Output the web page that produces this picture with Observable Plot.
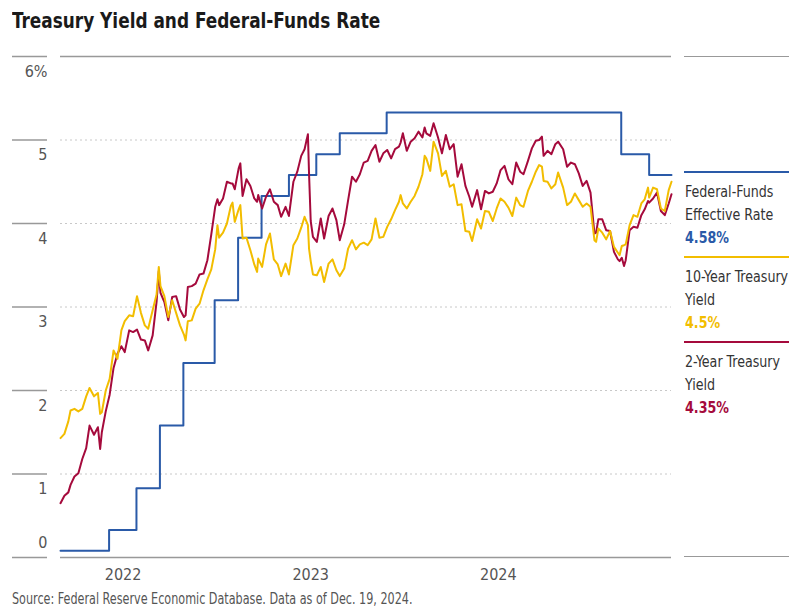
<!DOCTYPE html>
<html>
<head>
<meta charset="utf-8">
<script src="https://cdn.jsdelivr.net/npm/d3@7"></script>
<script src="https://cdn.jsdelivr.net/npm/@observablehq/plot@0.6"></script>
<style>
  html, body { margin: 0; padding: 0; background: #fff; }
  body { font-family: "Liberation Sans Narrow", "Arial Narrow", "DejaVu Sans Condensed", sans-serif; }
  #wrap { position: relative; width: 789px; height: 607px; overflow: hidden; }
  #title { position: absolute; left: 12px; top: 0; height: 42px; line-height: 42px; font-size: 22px; font-weight: bold; color: #1a1a1a; white-space: nowrap; transform: scaleX(0.855); transform-origin: 0 50%; }
  #chart { position: absolute; left: 0; top: 42px; }
  #caption { position: absolute; left: 12px; top: 589px; line-height: 20px; font-size: 15px; color: #555; white-space: nowrap; transform: scaleX(0.83); transform-origin: 0 50%; }
  .hline { position: absolute; left: 684px; width: 105px; height: 0; border-top: 1.3px solid #999; }
  .leg { position: absolute; left: 684px; width: 105px; box-sizing: border-box; padding-left: 1px; padding-top: 7px; font-size: 16px; line-height: 23px; color: #333; }
  .leg div { white-space: nowrap; transform: scaleX(0.88); transform-origin: 0 50%; }
  .leg b { font-weight: bold; }
</style>
</head>
<body>
<div id="wrap">
  <div id="title"></div>
  <div id="chart"></div>
  <div id="legend"></div>
  <div id="caption"></div>
</div>
<script>
// ---- Text ----
const titleText = "Treasury Yield and Federal-Funds Rate";
const captionText = "Source: Federal Reserve Economic Database. Data as of Dec. 19, 2024.";

// ---- Axes ----
const xDomain = ["2021-12-20", "2024-12-18"];
const xTickDates = ["2022-04-11", "2023-03-13", "2024-02-12"];
const xTickLabels = ["2022", "2023", "2024"];
const yTicks = [0, 1, 2, 3, 4, 5, 6];
const yTickLabels = ["0", "1", "2", "3", "4", "5", "6%"];

// ---- Series names / last values ----
const seriesNames = ["Federal-Funds Effective Rate", "10-Year Treasury Yield", "2-Year Treasury Yield"];
const seriesLines = [["Federal-Funds", "Effective Rate"], ["10-Year Treasury", "Yield"], ["2-Year Treasury", "Yield"]];
const seriesLast = ["4.58%", "4.5%", "4.35%"];
const seriesColors = ["#2a5aa8", "#f2bd00", "#a50a3c"];

// ---- Federal-funds effective rate (step changes) ----
const fedDates = ["2021-12-20","2022-03-17","2022-05-05","2022-06-16","2022-07-28","2022-09-22","2022-11-03","2022-12-15","2023-02-02","2023-03-23","2023-05-04","2023-07-27","2024-09-19","2024-11-08","2024-12-18"];
const fedValues = [0.08,0.33,0.83,1.58,2.33,3.08,3.83,4.33,4.58,4.83,5.08,5.33,4.83,4.58,4.58];

// ---- Treasury yields ----
const yieldDates = ["2021-12-20","2021-12-27","2022-01-03","2022-01-07","2022-01-14","2022-01-21","2022-01-28","2022-02-04","2022-02-10","2022-02-18","2022-02-25","2022-03-01","2022-03-04","2022-03-11","2022-03-18","2022-03-25","2022-04-01","2022-04-08","2022-04-14","2022-04-22","2022-04-29","2022-05-06","2022-05-13","2022-05-20","2022-05-26","2022-06-03","2022-06-10","2022-06-14","2022-06-17","2022-06-24","2022-07-01","2022-07-08","2022-07-15","2022-07-22","2022-07-29","2022-08-01","2022-08-05","2022-08-12","2022-08-19","2022-08-26","2022-09-02","2022-09-09","2022-09-16","2022-09-23","2022-09-27","2022-09-30","2022-10-07","2022-10-14","2022-10-21","2022-10-24","2022-10-28","2022-11-04","2022-11-07","2022-11-11","2022-11-18","2022-11-25","2022-12-02","2022-12-07","2022-12-09","2022-12-16","2022-12-23","2022-12-30","2023-01-06","2023-01-13","2023-01-19","2023-01-27","2023-02-02","2023-02-10","2023-02-17","2023-02-24","2023-03-02","2023-03-08","2023-03-10","2023-03-13","2023-03-17","2023-03-24","2023-03-31","2023-04-06","2023-04-14","2023-04-21","2023-04-28","2023-05-04","2023-05-12","2023-05-19","2023-05-26","2023-06-02","2023-06-09","2023-06-16","2023-06-23","2023-06-30","2023-07-07","2023-07-14","2023-07-21","2023-07-28","2023-08-04","2023-08-11","2023-08-18","2023-08-21","2023-08-25","2023-09-01","2023-09-08","2023-09-15","2023-09-22","2023-09-29","2023-10-03","2023-10-06","2023-10-13","2023-10-19","2023-10-27","2023-11-03","2023-11-10","2023-11-17","2023-11-24","2023-12-01","2023-12-08","2023-12-15","2023-12-22","2023-12-27","2024-01-05","2024-01-12","2024-01-19","2024-01-26","2024-02-02","2024-02-09","2024-02-16","2024-02-23","2024-03-01","2024-03-08","2024-03-15","2024-03-22","2024-03-28","2024-04-05","2024-04-12","2024-04-19","2024-04-25","2024-04-30","2024-05-03","2024-05-10","2024-05-17","2024-05-24","2024-05-29","2024-06-07","2024-06-14","2024-06-21","2024-06-28","2024-07-05","2024-07-12","2024-07-19","2024-07-26","2024-08-02","2024-08-05","2024-08-09","2024-08-16","2024-08-23","2024-08-30","2024-09-06","2024-09-13","2024-09-16","2024-09-20","2024-09-24","2024-09-27","2024-10-04","2024-10-11","2024-10-18","2024-10-25","2024-10-31","2024-11-06","2024-11-08","2024-11-15","2024-11-22","2024-11-29","2024-12-06","2024-12-13","2024-12-18"];
const tenYear = [1.43,1.48,1.63,1.76,1.78,1.75,1.78,1.93,2.03,1.93,1.97,1.72,1.74,2.00,2.14,2.48,2.38,2.72,2.83,2.90,2.89,3.13,2.93,2.78,2.74,2.96,3.15,3.48,3.25,3.13,2.88,3.08,2.93,2.78,2.67,2.60,2.83,2.84,2.98,3.04,3.20,3.33,3.45,3.69,3.98,3.83,3.89,4.00,4.21,4.25,4.02,4.17,4.22,3.82,3.83,3.68,3.51,3.42,3.58,3.48,3.75,3.88,3.57,3.51,3.37,3.52,3.39,3.74,3.82,3.95,4.08,3.98,3.70,3.55,3.39,3.38,3.48,3.30,3.52,3.57,3.44,3.37,3.46,3.70,3.80,3.69,3.75,3.77,3.74,3.81,4.06,3.83,3.84,3.96,4.05,4.16,4.26,4.34,4.24,4.18,4.26,4.33,4.44,4.59,4.81,4.78,4.63,4.98,4.84,4.57,4.63,4.44,4.47,4.22,4.23,3.91,3.90,3.79,4.05,3.94,4.15,4.14,4.03,4.18,4.30,4.26,4.19,4.09,4.31,4.22,4.20,4.39,4.50,4.62,4.70,4.68,4.51,4.50,4.42,4.47,4.61,4.43,4.22,4.26,4.36,4.28,4.20,4.24,4.20,3.80,3.78,3.94,3.89,3.81,3.91,3.72,3.65,3.62,3.73,3.74,3.75,3.98,4.10,4.08,4.24,4.29,4.43,4.31,4.43,4.41,4.18,4.15,4.40,4.50];
const twoYear = [0.65,0.74,0.78,0.87,0.97,1.01,1.18,1.31,1.58,1.47,1.56,1.30,1.50,1.75,1.95,2.27,2.44,2.53,2.46,2.72,2.70,2.73,2.61,2.60,2.48,2.66,3.06,3.43,3.17,3.06,2.84,3.12,3.13,2.97,2.88,2.90,3.24,3.25,3.28,3.39,3.40,3.56,3.87,4.20,4.29,4.22,4.30,4.50,4.48,4.48,4.41,4.66,4.72,4.33,4.53,4.45,4.30,4.26,4.34,4.18,4.32,4.41,4.26,4.22,4.08,4.20,4.09,4.50,4.62,4.81,4.89,5.07,4.60,4.03,3.84,3.78,4.06,3.82,4.09,4.18,4.04,3.80,3.99,4.28,4.56,4.50,4.59,4.73,4.75,4.87,4.94,4.74,4.84,4.88,4.78,4.89,4.92,4.97,5.08,4.87,4.98,5.02,5.10,5.03,5.15,5.08,5.05,5.20,5.03,4.84,5.06,4.89,4.95,4.56,4.71,4.45,4.32,4.20,4.40,4.17,4.39,4.36,4.38,4.48,4.64,4.69,4.53,4.47,4.73,4.62,4.59,4.75,4.90,4.99,5.00,5.04,4.81,4.87,4.83,4.95,4.98,4.89,4.68,4.73,4.71,4.60,4.45,4.51,4.37,3.88,3.89,4.05,4.05,3.92,3.91,3.66,3.57,3.55,3.59,3.49,3.56,3.92,3.96,3.95,4.10,4.17,4.27,4.25,4.30,4.37,4.15,4.10,4.24,4.35];

// ---- Build tables ----
const parse = d3.utcParse("%Y-%m-%d");
const fed = fedDates.map((d, i) => ({date: parse(d), value: fedValues[i]}));
const ten = yieldDates.map((d, i) => ({date: parse(d), value: tenYear[i]}));
const two = yieldDates.map((d, i) => ({date: parse(d), value: twoYear[i]}));
const xTicks = xTickDates.map(parse);
const xLabelOf = d => xTickLabels[xTicks.findIndex(t => +t === +d)];
const yLabelOf = d => yTickLabels[yTicks.indexOf(d)];

const FONT = '"Liberation Sans Narrow", "Arial Narrow", "DejaVu Sans Condensed", sans-serif';

const chart = Plot.plot({
  width: 789,
  height: 552,
  marginLeft: 60,
  marginRight: 118,
  marginTop: 14,
  marginBottom: 37,
  style: {fontFamily: FONT, fontSize: "16px", color: "#555", background: "transparent"},
  x: {type: "utc", domain: xDomain.map(parse)},
  y: {domain: [0, 6]},
  marks: [
    Plot.ruleY(yTicks.filter(d => d > 0 && d < 6), {stroke: "#c8c8c8", strokeDasharray: "2,3", strokeWidth: 1}),
    Plot.ruleY([yTicks[0], yTicks[yTicks.length - 1]], {stroke: "#999", strokeWidth: 1.3}),
    Plot.axisY(yTicks, {tickSize: 35, dx: -13, tickFormat: () => "", stroke: "#999", strokeWidth: 1.3, strokeOpacity: 1, label: null}),
    Plot.axisY(yTicks.filter(d => d > 0), {tickSize: 0, tickPadding: 13, dy: 15, tickFormat: yLabelOf, label: null, fill: "#555"}),
    Plot.axisY(yTicks.filter(d => d === 0), {tickSize: 0, tickPadding: 13, dy: -15, tickFormat: yLabelOf, label: null, fill: "#555"}),
    Plot.axisX(xTicks, {tickSize: 0, tickPadding: 11, tickFormat: xLabelOf, label: null, fill: "#555"}),
    Plot.line(fed, {x: "date", y: "value", curve: "step-after", stroke: seriesColors[0], strokeWidth: 2}),
    Plot.line(two, {x: "date", y: "value", stroke: seriesColors[2], strokeWidth: 2}),
    Plot.line(ten, {x: "date", y: "value", stroke: seriesColors[1], strokeWidth: 2})
  ]
});

document.getElementById("chart").appendChild(chart);
document.getElementById("title").textContent = titleText;
document.getElementById("caption").textContent = captionText;

// Right-hand legend, aligned with the plot frame
const legend = document.getElementById("legend");
const topLine = document.createElement("div");
topLine.className = "hline"; topLine.style.top = "56px";
legend.appendChild(topLine);
const botLine = document.createElement("div");
botLine.className = "hline"; botLine.style.top = "556px";
legend.appendChild(botLine);
const legTops = [171, 256, 341];
seriesNames.forEach((name, i) => {
  const item = document.createElement("div");
  item.className = "leg";
  item.style.top = legTops[i] + "px";
  item.style.borderTop = "2px solid " + seriesColors[i];
  item.title = name;
  seriesLines[i].forEach(line => {
    const l = document.createElement("div");
    l.textContent = line;
    item.appendChild(l);
  });
  const v = document.createElement("div");
  v.innerHTML = "<b></b>";
  v.firstChild.textContent = seriesLast[i];
  v.style.color = seriesColors[i];
  item.appendChild(v);
  legend.appendChild(item);
});
</script>
</body>
</html>
